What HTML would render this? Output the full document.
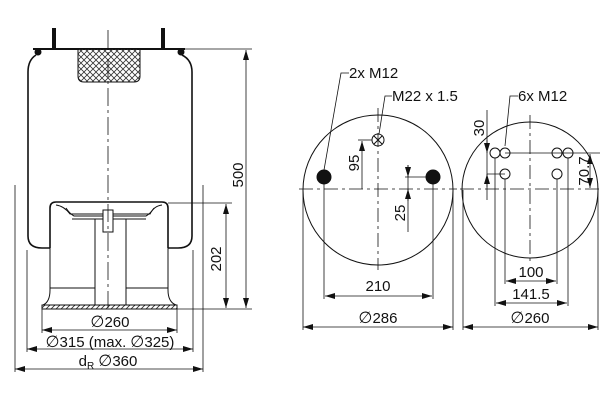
<!DOCTYPE html>
<html><head><meta charset="utf-8"><style>
html,body{margin:0;padding:0;background:#fff;width:600px;height:400px;overflow:hidden}
svg text{font-family:"Liberation Sans","DejaVu Sans",sans-serif;font-size:15px;fill:#111}
.d{font-family:"DejaVu Sans",sans-serif;font-size:16px}
</style></head><body>
<svg width="600" height="400" viewBox="0 0 600 400" xmlns="http://www.w3.org/2000/svg">
<defs>
<marker id="a" viewBox="0 0 10 6" refX="10" refY="3" markerWidth="10" markerHeight="6" orient="auto-start-reverse" markerUnits="userSpaceOnUse"><path d="M0,0 L10,3 L0,6 z" fill="#111"/></marker>
<pattern id="h" width="6" height="6" patternUnits="userSpaceOnUse"><path d="M0,6 L6,0 M0,0 L6,6" stroke="#333" stroke-width="0.8"/></pattern>
<pattern id="h2" width="5" height="5" patternUnits="userSpaceOnUse"><path d="M0,5 L5,0" stroke="#333" stroke-width="0.9"/></pattern>
</defs>
<g fill="none" stroke="#111" stroke-width="1">
<line x1="54" y1="28" x2="54" y2="50" stroke-width="4"/>
<line x1="163" y1="28" x2="163" y2="50" stroke-width="4"/>
<line x1="33" y1="49" x2="185" y2="49" stroke-width="2"/>
<circle cx="38" cy="52" r="3" fill="#111"/><circle cx="181" cy="52" r="3" fill="#111"/>
<path d="M78,49 L140,49 L140,76 Q140,82 134,82 L84,82 Q78,82 78,76 Z" fill="url(#h)" stroke-width="1"/>
<path d="M36,55 Q28,60 28,72 L28,236 Q28,248 42,248 L50,248" stroke-width="1.6"/>
<path d="M182,55 Q192,60 192,72 L192,236 Q192,248 178,248 L168,248" stroke-width="1.6"/>
<path d="M50,248 L50,208 Q50,202 56,202 L162,202 Q168,202 168,208 L168,248" stroke-width="1.6"/>
<path d="M56,205 Q64,206 70,214 L150,214 Q154,206 162,205"/>
<path d="M66,208 Q70,214 74,216 L146,216 Q150,214 154,208"/>
<line x1="72" y1="219" x2="146" y2="219"/>
<line x1="50" y1="248" x2="50" y2="290"/><path d="M50,290 Q50,302 43,305"/>
<line x1="168" y1="248" x2="168" y2="290"/><path d="M168,290 Q168,302 176,305"/>
<line x1="50" y1="288" x2="95" y2="288"/><line x1="126" y1="288" x2="168" y2="288"/>
<line x1="95" y1="219" x2="95" y2="305"/><line x1="126" y1="219" x2="126" y2="305"/>
<rect x="103" y="210" width="10" height="22" fill="#fff"/>
<rect x="42" y="305" width="135" height="4" fill="url(#h2)" stroke-width="1"/>
<line x1="108" y1="30" x2="108" y2="308" stroke-dasharray="18,4,3,4" stroke-width="0.8"/>
<line x1="185" y1="49" x2="252" y2="49" stroke-width="0.8"/>
<line x1="177" y1="309" x2="252" y2="309" stroke-width="0.8"/>
<line x1="168" y1="203" x2="232" y2="203" stroke-width="0.8"/>
<line x1="246" y1="50" x2="246" y2="308" marker-start="url(#a)" marker-end="url(#a)" stroke-width="0.8"/>
<line x1="226" y1="204" x2="226" y2="308" marker-start="url(#a)" marker-end="url(#a)" stroke-width="0.8"/>
<line x1="42" y1="309" x2="42" y2="333" stroke-width="0.8"/><line x1="177" y1="309" x2="177" y2="333" stroke-width="0.8"/>
<line x1="27" y1="250" x2="27" y2="352" stroke-width="0.8"/><line x1="193" y1="250" x2="193" y2="352" stroke-width="0.8"/>
<line x1="15" y1="185" x2="15" y2="372" stroke-width="0.8"/><line x1="203" y1="185" x2="203" y2="372" stroke-width="0.8"/>
<line x1="42" y1="330" x2="177" y2="330" marker-start="url(#a)" marker-end="url(#a)" stroke-width="0.8"/>
<line x1="27" y1="349" x2="193" y2="349" marker-start="url(#a)" marker-end="url(#a)" stroke-width="0.8"/>
<line x1="15" y1="369" x2="203" y2="369" marker-start="url(#a)" marker-end="url(#a)" stroke-width="0.8"/>
<circle cx="378" cy="190" r="75"/>
<line x1="299" y1="189" x2="457" y2="189" stroke-dasharray="14,4,3,4" stroke-width="0.8"/>
<line x1="378" y1="108" x2="378" y2="270" stroke-dasharray="14,4,3,4" stroke-width="0.8"/>
<circle cx="324" cy="177" r="7" fill="#111"/><circle cx="433" cy="177" r="7" fill="#111"/>
<circle cx="378" cy="140" r="6"/><path d="M374,136 L382,144 M382,136 L374,144"/>
<path d="M324,170 L341,73 L349,73" stroke-width="0.8"/>
<path d="M379,134 L385,96 L392,96" stroke-width="0.8"/>
<line x1="362" y1="141" x2="362" y2="189" marker-start="url(#a)" stroke-width="0.8"/>
<line x1="358" y1="140" x2="372" y2="140" stroke-width="0.8"/>
<line x1="408" y1="165" x2="408" y2="232" stroke-width="0.8"/>
<path d="M408,165 L408,177" marker-end="url(#a)" stroke-width="0.8"/>
<path d="M408,201 L408,189" marker-end="url(#a)" stroke-width="0.8"/>
<line x1="405" y1="177" x2="428" y2="177" stroke-width="0.8"/>
<line x1="324" y1="184" x2="324" y2="299" stroke-width="0.8"/><line x1="433" y1="184" x2="433" y2="299" stroke-width="0.8"/>
<line x1="325" y1="296" x2="432" y2="296" marker-start="url(#a)" marker-end="url(#a)" stroke-width="0.8"/>
<line x1="303" y1="190" x2="303" y2="330" stroke-width="0.8"/><line x1="453" y1="190" x2="453" y2="330" stroke-width="0.8"/>
<line x1="303" y1="327" x2="453" y2="327" marker-start="url(#a)" marker-end="url(#a)" stroke-width="0.8"/>
<circle cx="530" cy="190" r="68"/>
<line x1="460" y1="189" x2="600" y2="189" stroke-dasharray="14,4,3,4" stroke-width="0.8"/>
<line x1="530" y1="115" x2="530" y2="262" stroke-dasharray="14,4,3,4" stroke-width="0.8"/>
<circle cx="495" cy="153" r="5"/><circle cx="505" cy="153" r="5"/>
<circle cx="557" cy="153" r="5"/><circle cx="568" cy="153" r="5"/>
<circle cx="505" cy="174" r="5"/><circle cx="557" cy="174" r="5"/>
<line x1="505" y1="153" x2="600" y2="153" stroke-width="0.8"/>
<line x1="590" y1="154" x2="590" y2="188" marker-start="url(#a)" marker-end="url(#a)" stroke-width="0.8"/>
<line x1="487" y1="110" x2="487" y2="200" stroke-width="0.8"/>
<path d="M487,140 L487,153" marker-end="url(#a)" stroke-width="0.8"/>
<path d="M487,187 L487,174" marker-end="url(#a)" stroke-width="0.8"/>
<line x1="487" y1="174" x2="505" y2="174" stroke-width="0.8"/>
<path d="M505,146 L510,96 L518,96" stroke-width="0.8"/>
<line x1="495" y1="158" x2="495" y2="306" stroke-width="0.8"/><line x1="568" y1="158" x2="568" y2="306" stroke-width="0.8"/>
<line x1="505" y1="179" x2="505" y2="284" stroke-width="0.8"/><line x1="557" y1="179" x2="557" y2="284" stroke-width="0.8"/>
<line x1="506" y1="281" x2="556" y2="281" marker-start="url(#a)" marker-end="url(#a)" stroke-width="0.8"/>
<line x1="496" y1="303" x2="567" y2="303" marker-start="url(#a)" marker-end="url(#a)" stroke-width="0.8"/>
<line x1="463" y1="190" x2="463" y2="330" stroke-width="0.8"/><line x1="598" y1="190" x2="598" y2="330" stroke-width="0.8"/>
<line x1="463" y1="327" x2="598" y2="327" marker-start="url(#a)" marker-end="url(#a)" stroke-width="0.8"/>
</g>
<g>
<text transform="translate(243,175) rotate(-90)" text-anchor="middle">500</text>
<text transform="translate(221,259) rotate(-90)" text-anchor="middle">202</text>
<text x="110" y="327" text-anchor="middle"><tspan class="d">∅</tspan>260</text>
<text x="110" y="347" text-anchor="middle"><tspan class="d">∅</tspan>315 (max. <tspan class="d">∅</tspan>325)</text>
<text x="108" y="366" text-anchor="middle">d<tspan font-size="10" dy="3">R</tspan><tspan dy="-3">  </tspan><tspan class="d">∅</tspan>360</text>
<text x="349" y="78">2x M12</text>
<text x="392" y="101">M22 x 1.5</text>
<text transform="translate(359,163) rotate(-90)" text-anchor="middle">95</text>
<text transform="translate(405,213) rotate(-90)" text-anchor="middle">25</text>
<text x="378" y="291" text-anchor="middle">210</text>
<text x="378" y="323" text-anchor="middle"><tspan class="d">∅</tspan>286</text>
<text x="518" y="101">6x M12</text>
<text transform="translate(484,128) rotate(-90)" text-anchor="middle">30</text>
<text transform="translate(589,171) rotate(-90)" text-anchor="middle">70.7</text>
<text x="531" y="277" text-anchor="middle">100</text>
<text x="531" y="299" text-anchor="middle">141.5</text>
<text x="530" y="323" text-anchor="middle"><tspan class="d">∅</tspan>260</text>
</g>
</svg>
</body></html>
